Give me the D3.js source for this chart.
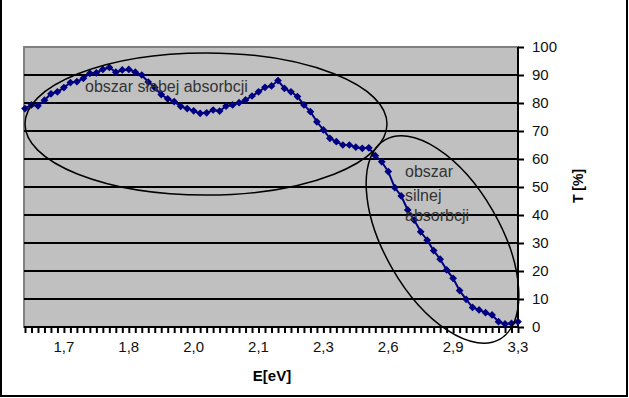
<!DOCTYPE html>
<html>
<head>
    <meta charset="utf-8">
    <title>Transmisja</title>
    <style>
    body { margin: 0; background: #fff; }
    svg { display: block; font-family: "Liberation Sans", Arial, sans-serif; }
    .grid line { stroke: #000; stroke-width: 2px; }
    </style>
</head>
<body>
<div id="chart">
<svg></svg>
</div>
<script src="https://d3js.org/d3.v7.min.js"></script>
<script>

    // transmisja T[%] dla kolejnych punktow pomiarowych
    const values = [
        78, 79.3, 79, 81, 83.3, 84, 85.5, 87.3, 87.6, 88.8,
        90.6, 90.8, 92, 92.7, 91, 91.8, 92, 91, 90, 87.5,
        85.5, 83, 81.5, 80.5, 78.8, 78, 77.2, 76.3, 76.5, 77.5,
        77.1, 78.9, 79.3, 80.1, 81.1, 82.5, 84, 85.6, 86.1, 88,
        85.2, 84, 82.3, 79.3, 76.9, 73.3, 70.4, 67.4, 66.2, 65,
        65, 64.2, 63.8, 64, 61.2, 59, 55.5, 49.8, 46.8, 41.8,
        38.2, 34, 31, 27.3, 24.2, 20.4, 17.4, 13, 9.9, 7,
        6.1, 5.1, 4.3, 1.9, 1.1, 1.3, 1.9
    ];
    const categories = values.map(function(d, i) { return i; });

    // opisy osi E[eV] - co 10 punkt
    const tickIndex = [6, 16, 26, 36, 46, 56, 66, 76];
    const tickLabels = ["1,7", "1,8", "2,0", "2,1", "2,3", "2,6", "2,9", "3,3"];
    const yTicks = [0, 10, 20, 30, 40, 50, 60, 70, 80, 90, 100];

    const svgWidth = 629, svgHeight = 398;
    const plot = {left: 24, right: 518, top: 47, bottom: 327};

    const svg = d3.select('#chart svg')
        .attr("width", svgWidth)
        .attr("height", svgHeight);

    // ramka
    svg.append("path")
        .attr("d", "M1,0V396H627V0")
        .attr("fill", "none")
        .attr("stroke", "#000")
        .attr("stroke-width", 2);

    const x = d3.scalePoint().domain(categories).range([plot.left + 1, plot.right]);
    const y = d3.scaleLinear().domain([0, 100]).range([plot.bottom, plot.top]);

    svg.append("rect")
        .attr("x", plot.left)
        .attr("y", plot.top)
        .attr("width", plot.right - plot.left)
        .attr("height", plot.bottom - plot.top)
        .attr("fill", "#c0c0c0")
        .attr("stroke", "#808080")
        .attr("stroke-width", 2);

    svg.append("g")
        .attr("class", "grid")
        .selectAll("line")
        .data(yTicks.filter(function(d) { return d > 0 && d < 100; }))
        .enter().append("line")
        .attr("x1", plot.left)
        .attr("x2", plot.right)
        .attr("y1", function(d) { return y(d); })
        .attr("y2", function(d) { return y(d); });

    // os X
    const xAxis = svg.append("g")
        .attr("transform", "translate(0," + plot.bottom + ")")
        .call(d3.axisBottom(x).tickSize(6).tickFormat(""));
    xAxis.select(".domain").attr("stroke-width", 2).attr("d", "M" + plot.left + ",0H" + (plot.right + 1));
    xAxis.selectAll(".tick line").attr("stroke-width", 2);

    svg.append("g")
        .selectAll("text")
        .data(tickIndex)
        .enter().append("text")
        .attr("x", function(d) { return x(d); })
        .attr("y", 352)
        .attr("text-anchor", "middle")
        .attr("font-size", 15)
        .attr("fill", "#111")
        .text(function(d, i) { return tickLabels[i]; });

    svg.append("text")
        .attr("x", 272)
        .attr("y", 381)
        .attr("text-anchor", "middle")
        .attr("font-size", 15)
        .attr("font-weight", "bold")
        .text("E[eV]");

    // os Y po prawej
    const yAxis = svg.append("g")
        .attr("transform", "translate(" + plot.right + ",0)")
        .call(d3.axisRight(y).tickValues(yTicks).tickSize(6).tickPadding(8));
    yAxis.select(".domain").attr("stroke-width", 2).attr("d", "M0," + plot.top + "V" + (plot.bottom + 1));
    yAxis.selectAll(".tick line").attr("stroke-width", 2);
    yAxis.selectAll(".tick text")
        .attr("font-size", 15)
        .attr("fill", "#111")
        .attr("font-family", "Liberation Sans, Arial, sans-serif");

    svg.append("text")
        .attr("transform", "translate(583,186) rotate(-90)")
        .attr("text-anchor", "middle")
        .attr("font-size", 14)
        .attr("font-weight", "bold")
        .text("T [%]");

    // seria
    const line = d3.line()
        .x(function(d, i) { return x(categories[i]); })
        .y(function(d) { return y(d); });

    svg.append("path")
        .datum(values)
        .attr("fill", "none")
        .attr("stroke", "#000080")
        .attr("stroke-width", 2)
        .attr("d", line);

    svg.append("g")
        .selectAll("path")
        .data(values)
        .enter().append("path")
        .attr("d", d3.symbol(d3.symbolSquare, 30))
        .attr("transform", function(d, i) {
            return "translate(" + x(categories[i]) + "," + y(d) + ") rotate(45)";
        })
        .attr("fill", "#000080");

    // opisy i elipsy
    svg.append("text")
        .attr("x", 85)
        .attr("y", 92)
        .attr("font-size", 16)
        .attr("fill", "#333")
        .text("obszar słabej absorbcji");

    const label2 = svg.append("text")
        .attr("font-size", 16)
        .attr("fill", "#333");
    label2.append("tspan").attr("x", 405).attr("y", 177).text("obszar");
    label2.append("tspan").attr("x", 405).attr("y", 201).text("silnej");
    label2.append("tspan").attr("x", 405).attr("y", 221).text("absorbcji");

    svg.append("ellipse")
        .attr("cx", 206)
        .attr("cy", 124)
        .attr("rx", 181)
        .attr("ry", 71)
        .attr("fill", "none")
        .attr("stroke", "#000")
        .attr("stroke-width", 1.5);

    svg.append("ellipse")
        .attr("transform", "translate(442.5,239.5) rotate(60)")
        .attr("rx", 115)
        .attr("ry", 58)
        .attr("fill", "none")
        .attr("stroke", "#000")
        .attr("stroke-width", 1.5);

</script>
</body>
</html>
